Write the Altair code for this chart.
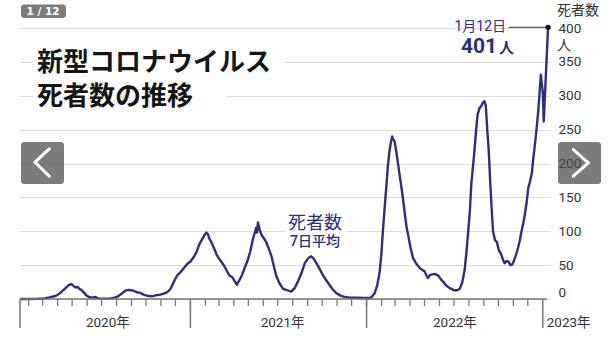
import altair as alt
import pandas as pd

# ---- data (7-day average deaths) ----
dates = [
    "2020-01-14", "2020-02-01", "2020-02-20", "2020-03-05", "2020-03-15", "2020-03-25",
    "2020-04-01", "2020-04-08", "2020-04-14", "2020-04-20", "2020-04-25", "2020-04-30",
    "2020-05-04", "2020-05-08", "2020-05-12", "2020-05-16", "2020-05-21", "2020-05-26",
    "2020-05-31", "2020-06-05", "2020-06-12", "2020-06-18", "2020-06-24", "2020-07-01",
    "2020-07-10", "2020-07-20", "2020-07-28", "2020-08-04", "2020-08-10", "2020-08-15",
    "2020-08-20", "2020-08-26", "2020-08-31", "2020-09-06", "2020-09-12", "2020-09-19",
    "2020-09-26", "2020-10-03", "2020-10-10", "2020-10-17", "2020-10-24", "2020-10-31",
    "2020-11-07", "2020-11-14", "2020-11-21", "2020-11-28", "2020-12-05", "2020-12-12",
    "2020-12-19", "2020-12-26",
    "2021-01-02", "2021-01-08", "2021-01-13", "2021-01-19", "2021-01-26", "2021-01-30",
    "2021-02-03", "2021-02-06", "2021-02-10", "2021-02-14", "2021-02-19", "2021-02-24",
    "2021-03-01", "2021-03-05", "2021-03-10", "2021-03-15", "2021-03-20", "2021-03-24",
    "2021-03-27", "2021-03-30", "2021-04-03", "2021-04-07", "2021-04-12", "2021-04-17",
    "2021-04-23", "2021-04-30", "2021-05-05", "2021-05-11", "2021-05-15", "2021-05-17",
    "2021-05-19", "2021-05-21", "2021-05-24", "2021-05-28", "2021-06-02", "2021-06-07",
    "2021-06-12", "2021-06-18", "2021-06-23", "2021-06-28", "2021-07-04", "2021-07-12",
    "2021-07-20", "2021-07-29", "2021-08-05", "2021-08-12", "2021-08-19", "2021-08-26",
    "2021-09-02", "2021-09-08", "2021-09-13", "2021-09-19", "2021-09-26", "2021-10-02",
    "2021-10-09", "2021-10-16", "2021-10-23", "2021-10-30", "2021-11-08", "2021-11-16",
    "2021-11-28", "2021-12-10", "2021-12-25",
    "2022-01-08", "2022-01-13", "2022-01-18", "2022-01-23", "2022-01-28", "2022-02-01",
    "2022-02-04", "2022-02-08", "2022-02-11", "2022-02-14", "2022-02-17", "2022-02-20",
    "2022-02-23", "2022-02-25", "2022-02-28", "2022-03-03", "2022-03-07", "2022-03-10",
    "2022-03-14", "2022-03-18", "2022-03-21", "2022-03-25", "2022-03-28", "2022-04-02",
    "2022-04-07", "2022-04-14", "2022-04-21", "2022-04-26", "2022-05-01", "2022-05-05",
    "2022-05-08", "2022-05-12", "2022-05-15", "2022-05-22", "2022-05-29", "2022-06-03",
    "2022-06-08", "2022-06-15", "2022-06-22", "2022-07-01", "2022-07-08", "2022-07-13",
    "2022-07-18", "2022-07-23", "2022-07-27", "2022-07-30", "2022-08-03", "2022-08-06",
    "2022-08-10", "2022-08-13", "2022-08-16", "2022-08-19", "2022-08-23", "2022-08-26",
    "2022-08-30", "2022-09-02", "2022-09-05", "2022-09-08", "2022-09-11", "2022-09-14",
    "2022-09-17", "2022-09-20", "2022-09-24", "2022-09-28", "2022-10-02", "2022-10-07",
    "2022-10-11", "2022-10-14", "2022-10-18", "2022-10-22", "2022-10-26", "2022-10-30",
    "2022-11-03", "2022-11-07", "2022-11-11", "2022-11-14", "2022-11-18", "2022-11-22",
    "2022-11-25", "2022-11-29", "2022-12-02", "2022-12-05", "2022-12-09", "2022-12-12",
    "2022-12-15", "2022-12-19", "2022-12-22", "2022-12-25", "2022-12-28", "2022-12-30",
    "2023-01-01", "2023-01-03", "2023-01-12",
]
deaths = [
    0, 0, 0.3, 1, 2.5, 4,
    6, 10, 14, 18, 21, 22,
    19, 17, 18, 15, 13, 9,
    5, 3, 2, 3, 1, 0.5,
    0.5, 1, 2, 4, 7, 10,
    12.5, 13.5, 13, 12, 10, 9,
    6.5, 5, 4, 4.5, 6, 6.5,
    8, 10, 15, 26, 35, 40,
    46, 52,
    56, 62, 68, 80, 89, 94,
    98, 96, 88, 83, 75, 66,
    60, 56, 51, 45, 38, 34,
    33, 31, 26, 21, 27, 34,
    45, 58, 70, 90, 99, 105,
    98, 113, 104, 95, 90, 84,
    75, 63, 48, 34, 24, 15,
    13, 11, 16, 26, 38, 53,
    60, 63, 60, 53, 44, 36,
    28, 21, 14, 9, 5, 3,
    2, 2, 1.5,
    1.5, 4, 9, 20, 39, 70,
    102, 140, 166, 195, 216, 230,
    240, 236, 233, 220, 201, 185,
    166, 145, 127, 105, 95, 76,
    61, 52, 46, 43, 41, 35,
    31, 35, 36, 37, 35, 30,
    26, 20, 16, 13, 13, 15,
    24, 42, 70, 95, 130, 170,
    200, 223, 250, 272, 282, 284,
    290, 292, 285, 250, 220, 175,
    135, 100, 87, 84, 72, 66,
    57, 53, 56, 55, 50, 51,
    58, 66, 76, 85, 100, 113,
    125, 145, 164, 172, 184, 205,
    223, 250, 272, 300, 331, 318,
    306, 262, 401,
]

y_ticks = [0, 50, 100, 150, 200, 250, 300, 350, 400]
month_ticks = [f"{y}-{m:02d}-01" for y in (2020, 2021, 2022) for m in range(1, 13) if not (y == 2020 and m == 1)]
year_ticks = ["2020-01-14", "2021-01-01", "2022-01-01", "2023-01-01"]
year_labels = ["2020年", "2021年", "2022年"]
year_label_dates = ["2020-07-14", "2021-07-11", "2022-07-03"]
last_label = "2023年"
last_label_date = "2023-01-01"

title_lines = ["新型コロナウイルス", "死者数の推移"]
series_label = ["死者数", "7日平均"]
peak_date = "2023-01-12"
peak_value = 401

NAVY = "#2c2f7e"
GRAY = "#777777"
TXT = "#333333"
W, H = 530, 271

df = pd.DataFrame({"date": dates, "v": deaths})
xscale = alt.Scale(type="utc",
                   domain=[alt.DateTime(year=2020, month=1, date=14, utc=True),
                           alt.DateTime(year=2023, month=1, date=16, utc=True)])
yscale = alt.Scale(domain=[0, 400], nice=False)
YAX = alt.Axis(orient="right", values=y_ticks, tickCount=9, grid=True, gridColor="#dcdcdc",
               gridWidth=1, domain=False, ticks=False, title=None,
               labelFont="Roboto", labelFontSize=13.5, labelColor=TXT,
               labelAlign="left", labelPadding=8, labelOverlap=False,
               labelBaseline={"condition": {"test": "datum.value === 0", "value": "bottom"},
                              "value": "middle"})
X = lambda f="date": alt.X(f"{f}:T", scale=xscale, axis=None)
Y = lambda f="v": alt.Y(f"{f}:Q", scale=yscale, axis=YAX)
one = pd.DataFrame({"k": [0]})

line = alt.Chart(df).mark_line(color=NAVY, strokeWidth=2.4, strokeJoin="round").encode(x=X(), y=Y())

# white boxes behind the title lines
title_bg = alt.Chart(pd.DataFrame({"x": [13, 13], "x2": [265, 207], "y": [20, 53], "y2": [50, 84]})).mark_rect(
    color="white").encode(x=alt.X("x:Q", scale=None), x2="x2:Q", y=alt.Y("y:Q", scale=None), y2="y2:Q")
title1 = alt.Chart(one).mark_text(text=title_lines[0], font="Noto Sans CJK JP", fontWeight="bold",
                                   fontSize=26, color="#151515", align="left", baseline="middle").encode(
    x=alt.value(17), y=alt.value(34.5))
title2 = alt.Chart(one).mark_text(text=title_lines[1], font="Noto Sans CJK JP", fontWeight="bold",
                                   fontSize=26, color="#151515", align="left", baseline="middle").encode(
    x=alt.value(17), y=alt.value(69))

# series label with white background
lab_bg = alt.Chart(pd.DataFrame({"d1": ["2021-07-16"], "d2": ["2021-11-20"], "v": [76], "v2": [124]})).mark_rect(
    color="white").encode(x=X("d1"), x2="d2:T", y=Y(), y2="v2:Q")
lab1 = alt.Chart(pd.DataFrame({"date": ["2021-09-16"], "v": [111]})).mark_text(
    text=series_label[0], font="Noto Sans CJK JP", fontSize=18, color=NAVY, baseline="middle").encode(
    x=X(), y=Y())
lab2 = alt.Chart(pd.DataFrame({"date": ["2021-09-16"], "v": [84]})).mark_text(
    text=series_label[1], font="Roboto, Noto Sans CJK JP", fontSize=14, fontWeight=500, color=NAVY,
    baseline="middle").encode(x=X(), y=Y())

# x axis pieces
baseline = alt.Chart(one).mark_rule(color=GRAY, strokeWidth=1.5).encode(
    x=alt.value(0), x2=alt.value(527), y=alt.value(H))
mticks = alt.Chart(pd.DataFrame({"date": month_ticks})).mark_rule(color=GRAY, strokeWidth=1.3).encode(
    x=X(), y=alt.value(H), y2=alt.value(H + 7))
yticks = alt.Chart(pd.DataFrame({"date": year_ticks})).mark_rule(color=GRAY, strokeWidth=1.5).encode(
    x=X(), y=alt.value(H), y2=alt.value(H + 29))
ylabels = alt.Chart(pd.DataFrame({"date": year_label_dates, "t": year_labels})).mark_text(
    font="Roboto, Noto Sans CJK JP", fontSize=13.5, color=TXT, baseline="middle").encode(
    x=X(), y=alt.value(294.5), text="t:N")
ylast = alt.Chart(pd.DataFrame({"date": [last_label_date], "t": [last_label]})).mark_text(
    font="Roboto, Noto Sans CJK JP", fontSize=13.5, color=TXT, baseline="middle", align="left", dx=4).encode(
    x=X(), y=alt.value(294.5), text="t:N")

# y-axis unit texts
unit1 = alt.Chart(one).mark_text(text="死者数", font="Noto Sans CJK JP", fontSize=14, color=TXT,
                                  align="left", baseline="middle").encode(x=alt.value(537), y=alt.value(-17))
unit2 = alt.Chart(one).mark_text(text="人", font="Noto Sans CJK JP", fontSize=14, color=TXT,
                                  align="left", baseline="middle").encode(x=alt.value(537), y=alt.value(18))

# peak annotation
pk = pd.DataFrame({"date": [peak_date], "v": [peak_value], "d0": ["2022-10-23"]})
leader = alt.Chart(pk).mark_rule(color="#333", strokeWidth=1).encode(x=X("d0"), x2="date:T", y=Y())
dot = alt.Chart(pk).mark_circle(color="#111", size=28, opacity=1).encode(x=X(), y=Y())
pk_date = alt.Chart(pk).mark_text(text="1月12日", font="Roboto, Noto Sans CJK JP", fontSize=14, color=NAVY,
                                  align="right", baseline="middle", dx=-42).encode(x=X(), y=Y())
pk_num = alt.Chart(pk).mark_text(text=str(peak_value), font="Roboto", fontWeight="bold", fontSize=21,
                                 color=NAVY, align="right", baseline="middle", dx=-51, dy=20).encode(x=X(), y=Y())
pk_unit = alt.Chart(pk).mark_text(text="人", font="Noto Sans CJK JP", fontWeight="bold", fontSize=15,
                                  color=NAVY, align="left", baseline="middle", dx=-49, dy=21).encode(x=X(), y=Y())

# slideshow overlays
boxes = alt.Chart(pd.DataFrame({"x": [1, 538, 1], "x2": [44, 581, 46], "y": [114, 114, -23.5], "y2": [156, 156, -10]})).mark_rect(
    color="#4a4a4a", opacity=0.72, cornerRadius=3).encode(
    x=alt.X("x:Q", scale=None), x2="x2:Q", y=alt.Y("y:Q", scale=None), y2="y2:Q")
badge = alt.Chart(one).mark_text(text="1 / 12", font="DejaVu Sans", fontSize=10.5, fontWeight="bold",
                                 color="white", baseline="middle").encode(x=alt.value(23), y=alt.value(-16.5))
chev = alt.Chart(pd.DataFrame({
    "x": [29.3, 15, 553.3, 568.3], "x2": [15, 29.3, 568.3, 553.3],
    "y": [120.8, 134.2, 121.5, 134.8], "y2": [134.2, 148.2, 134.8, 148.2]})).mark_rule(
    color="white", strokeWidth=3, strokeCap="round").encode(
    x=alt.X("x:Q", scale=None), x2="x2:Q", y=alt.Y("y:Q", scale=None), y2="y2:Q")

chart = alt.layer(
    line, title_bg, lab_bg, lab1, lab2, baseline, mticks, yticks, ylabels, ylast,
    unit1, unit2, leader, dot, pk_date, pk_num, pk_unit, title1, title2, boxes, badge, chev,
).properties(
    width=W, height=H,
    autosize=alt.AutoSizeParams(type="none"),
    padding={"left": 20, "top": 28, "right": 61, "bottom": 39},
    background="white",
).configure_view(stroke=None)

chart.save("out.html", embed_options={"renderer": "svg", "actions": False})
